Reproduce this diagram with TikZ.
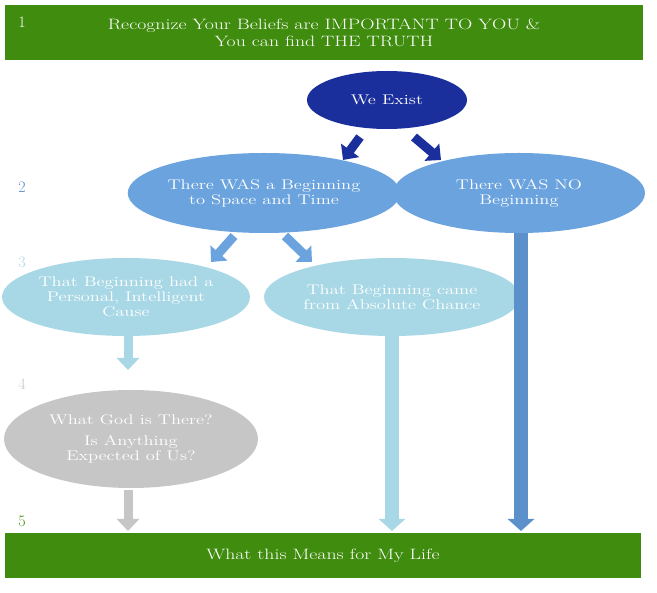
\documentclass[tikz,border=0pt]{standalone}
\usepackage{fontspec}
\newfontfamily\widefont[FakeStretch=1.32]{Latin Modern Roman}
\usetikzlibrary{shapes.geometric,arrows.meta}
\definecolor{grn}{HTML}{3F8C0E}
\definecolor{dblue}{HTML}{1B2F9C}
\definecolor{mblue}{HTML}{6AA3DE}
\definecolor{ablue}{HTML}{5B90CA}
\definecolor{lblue}{HTML}{A8D8E6}
\definecolor{gry}{HTML}{C6C6C6}
\begin{document}
\begin{tikzpicture}[x=1pt,y=-1pt,
  bar/.style={fill=grn,draw=none,text=white,font=\widefont\fontsize{15}{17}\selectfont\scshape,align=center,inner sep=0},
  ell/.style={ellipse,draw=none,text=white,align=center,font=\widefont\fontsize{14}{15}\selectfont\scshape,inner sep=0},
  fat/.style={line width=9pt,-{Triangle[length=12pt,width=22pt]}},
  num/.style={font=\fontsize{16}{17}\selectfont}]
\useasboundingbox (0,0) rectangle (657,593);
\node[bar,minimum width=638pt,minimum height=55pt] (top) at (324,33) {Recognize Your Beliefs are IMPORTANT TO YOU \&\\You can find THE TRUTH};
\node[bar,minimum width=636pt,minimum height=45pt] (bot) at (323,556) {What this Means for My Life};
\node[ell,fill=dblue,minimum width=160pt,minimum height=58pt] (we) at (387,100) {We Exist};
\node[ell,fill=mblue,minimum width=262pt,minimum height=80pt] (beg) at (264,193) {There WAS a Beginning\\to Space and Time};
\node[ell,fill=mblue,minimum width=252pt,minimum height=80pt] (nobeg) at (519,193) {There WAS NO\\Beginning};
\node[ell,fill=lblue,minimum width=248pt,minimum height=78pt] (pers) at (126,297) {That Beginning had a\\Personal, Intelligent\\Cause};
\node[ell,fill=lblue,minimum width=256pt,minimum height=78pt] (chance) at (392,297) {That Beginning came\\from Absolute Chance};
\node[ell,fill=gry,minimum width=254pt,minimum height=98pt] (god) at (131,439) {What God is There?\\[6pt]Is Anything\\Expected of Us?};
\node[num,text=white] (n1) at (22,22) {1};
\node[num,text=ablue] (n2) at (22,187) {2};
\node[num,text=lblue] (n3) at (22,262) {3};
\node[num,text=gry] (n4) at (22,384) {4};
\node[num,text=grn] (n5) at (22,521) {5};
\coordinate (a1s) at (360,137); \coordinate (a1e) at (343,160);
\coordinate (a2s) at (414,137); \coordinate (a2e) at (441,160);
\draw[fat,dblue] (a1s) -- (a1e);
\draw[fat,dblue] (a2s) -- (a2e);
\coordinate (b1s) at (234,236); \coordinate (b1e) at (211,262);
\coordinate (b2s) at (285,236); \coordinate (b2e) at (312,262);
\draw[fat,mblue] (b1s) -- (b1e);
\draw[fat,mblue] (b2s) -- (b2e);
\draw[fat,lblue] (pers.south) ++(2,-2) -- (128,370);
\draw[fat,gry] (god.south) ++(-3,2) -- (128,531);
\draw[fat,lblue,line width=14pt,-{Triangle[length=12pt,width=26pt]}] (chance.south) -- (392,531);
\draw[fat,ablue,line width=14pt,-{Triangle[length=12pt,width=26pt]}] (nobeg.south) ++(2,0) -- (521,531);
\end{tikzpicture}
\end{document}
